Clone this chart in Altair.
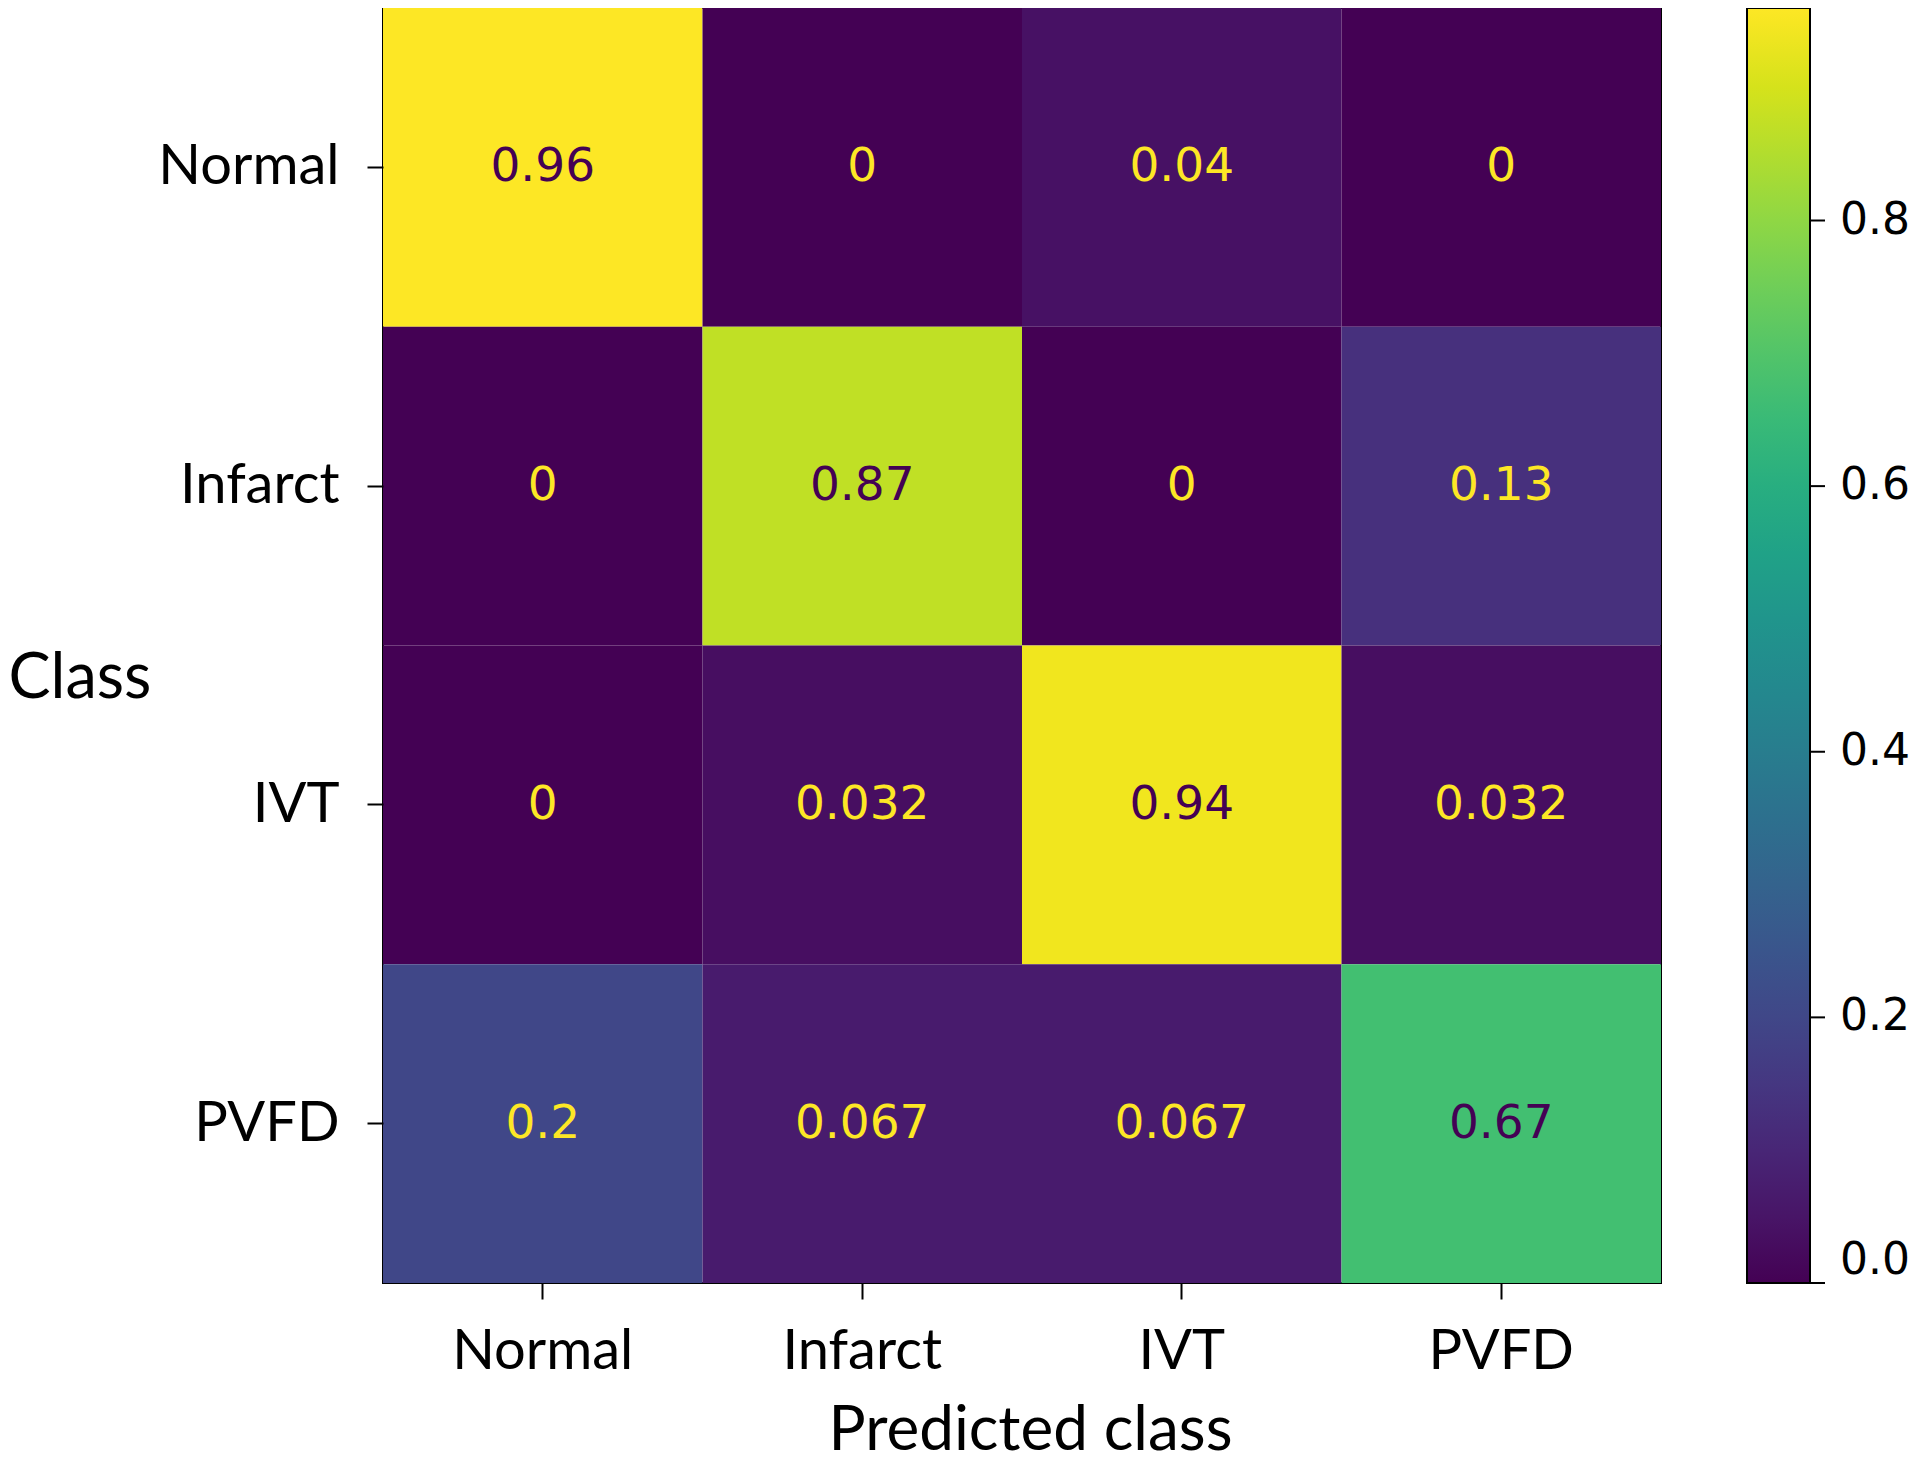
import altair as alt
import pandas as pd

# ---- data ----
true_classes = ["Normal", "Infarct", "IVT", "PVFD"]
pred_classes = ["Normal", "Infarct", "IVT", "PVFD"]
row_normal = [0.96, 0.0, 0.04, 0.0]
row_infarct = [0.0, 0.87, 0.0, 0.13]
row_ivt = [0.0, 0.032, 0.94, 0.032]
row_pvfd = [0.2, 0.067, 0.067, 0.67]
colorbar_ticks = [0.0, 0.2, 0.4, 0.6, 0.8]
color_max = 0.96

rows = [row_normal, row_infarct, row_ivt, row_pvfd]
records = []
for tc, r in zip(true_classes, rows):
    for pc, v in zip(pred_classes, r):
        records.append({"true": tc, "pred": pc, "value": v})
df = pd.DataFrame(records)
ticks_df = pd.DataFrame({"tick": colorbar_ticks})

W, H = 1278, 1275
threshold = color_max / 2
cscale = alt.Scale(scheme="viridis", domain=[0, color_max])

base = alt.Chart(df)

x_enc = alt.X(
    "pred:N", sort=pred_classes, title="Predicted class",
    scale=alt.Scale(paddingInner=0, paddingOuter=0),
    axis=alt.Axis(
        labelAngle=0, labelFont="Lato", labelFontSize=56, labelColor="black", labelLimit=0,
        labelPadding=25, tickSize=16, tickWidth=2, tickColor="black", domain=False,
        titleFont="Lato", titleFontSize=62, titleFontWeight="normal", titleColor="black",
        titleX=W / 2 + 8, titleY=166, titleBaseline="alphabetic", titleAlign="center",
    ),
)
y_enc = alt.Y(
    "true:N", sort=true_classes, title="Class",
    scale=alt.Scale(paddingInner=0, paddingOuter=0),
    axis=alt.Axis(
        labelFont="Lato", labelFontSize=56, labelColor="black", labelLimit=0,
        labelPadding=28, tickSize=16, tickWidth=2, tickColor="black", domain=False,
        titleFont="Lato", titleFontSize=63, titleFontWeight="normal", titleColor="black",
        titleAngle=0, titleAlign="left", titleBaseline="middle",
        titleX=-375, titleY=670,
    ),
)

rects = base.mark_rect().encode(
    x=x_enc,
    y=y_enc,
    color=alt.Color(
        "value:Q",
        scale=cscale,
        legend=alt.Legend(
            type="gradient",
            orient="none", legendX=W + 86, legendY=0, direction="vertical",
            gradientLength=H, gradientThickness=63, title=None,
            values=colorbar_ticks, format=".1f",
            labelFont="DejaVu Sans", labelFontSize=44, labelColor="black",
            labelOffset=30, labelBaseline="middle", labelOverlap=False,
            gradientStrokeColor="black", gradientStrokeWidth=2, padding=0,
        ),
    ),
)

texts = base.mark_text(font="DejaVu Sans", fontSize=47, baseline="middle", align="center").encode(
    x=alt.X("pred:N", sort=pred_classes),
    y=alt.Y("true:N", sort=true_classes, axis=None),
    text=alt.Text("value:Q", format=".2~g"),
    color=alt.condition(alt.datum.value > threshold, alt.value("#440154"), alt.value("#fde725")),
)

cb_ticks = alt.Chart(ticks_df).mark_rule(color="black", strokeWidth=2).encode(
    y=alt.Y("tick:Q", scale=alt.Scale(domain=[0, color_max]), axis=None),
    x=alt.value(W + 86 + 63),
    x2=alt.value(W + 86 + 63 + 15),
)

chart = alt.layer(rects, texts, cb_ticks).resolve_scale(y="independent").properties(
    width=W, height=H,
    autosize=alt.AutoSizeParams(type="none"),
    padding={"left": 375, "top": 0, "right": 250, "bottom": 180},
).configure_view(stroke="black", strokeWidth=2)

chart.save("out.html", embed_options={"renderer": "svg", "actions": False})
